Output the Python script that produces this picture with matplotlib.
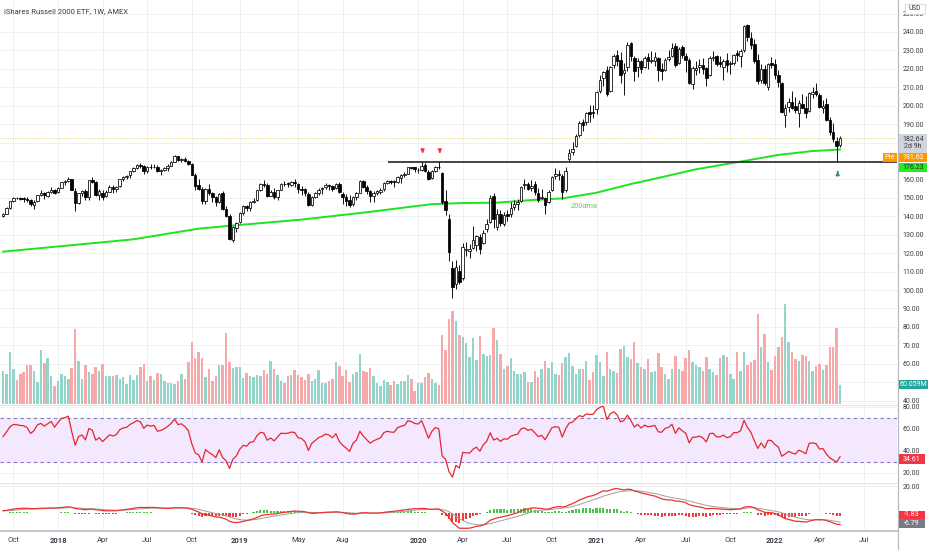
import numpy as np
import matplotlib
matplotlib.use('Agg')
import matplotlib.pyplot as plt
from matplotlib.patches import Rectangle
from matplotlib.lines import Line2D

plt.rcParams['font.family'] = ['Roboto', 'DejaVu Sans']

# weekly bars, numbered from the bar of 1 Jan 2018 (first bar = 11 Sep 2017)
weeks = list(range(-16, 229))

opens = [
    140.0, 141.5, 144.5, 148.3, 150.0, 149.9, 149.8, 149.6, 148.8, 146.2, 148.2, 151.5, 152.6, 151.2, 153.0, 154.3,
    # 2018
    153.0, 155.5, 158.5, 159.0, 160.1, 153.9, 147.2, 152.5, 153.6, 150.3, 159.5, 158.5, 151.8,
    152.5, 150.8, 153.3, 155.8, 155.0, 156.4, 160.0, 161.5, 162.2, 164.8, 166.0, 168.0, 167.5,
    164.6, 167.0, 166.6, 167.0, 164.4, 165.0, 166.0, 167.5, 169.7, 172.5, 170.5, 171.0, 170.0,
    168.6, 162.5, 156.8, 155.0, 148.5, 155.0, 152.5, 150.5, 147.8, 152.5, 144.0, 140.0, 127.2, 133.5,
    # 2019
    136.8, 142.0, 145.4, 144.6, 148.0, 148.8, 154.0, 157.6, 157.2, 151.2, 153.2, 150.6, 154.2,
    157.7, 157.8, 157.2, 158.6, 157.5, 154.6, 154.6, 152.0, 146.1, 150.5, 152.5, 154.6, 155.8,
    157.0, 156.6, 155.2, 157.5, 152.2, 150.4, 148.6, 146.5, 150.2, 152.6, 159.0, 156.0, 153.6,
    151.0, 152.6, 153.4, 154.6, 158.0, 159.0, 159.2, 158.6, 161.0, 162.4, 163.2, 166.6, 166.8,
    # 2020
    165.0, 165.3, 167.6, 164.3, 160.8, 164.8, 167.0, 163.5, 148.5, 138.5, 112.0, 103.0, 110.5, 106.5,
    121.5, 121.0, 123.0, 124.5, 129.0, 125.5, 133.0, 137.0, 151.0, 134.0, 141.0, 136.0, 141.5,
    141.0, 145.0, 146.5, 148.5, 157.0, 157.5, 155.5, 157.5, 152.5, 150.0, 150.0, 147.5, 154.0,
    162.0, 163.0, 162.0, 154.0, 171.0, 175.0, 178.0, 184.0, 191.0, 191.0, 196.5, 196.5,
    # 2021
    198.0, 208.0, 215.0, 219.5, 208.0, 222.0, 227.5, 225.0, 218.0, 221.0, 234.0, 226.0, 221.0,
    224.0, 221.0, 226.5, 224.5, 224.0, 226.0, 220.0, 219.5, 225.5, 227.0, 232.5, 223.0, 232.0,
    227.0, 225.0, 212.0, 219.5, 221.0, 222.0, 220.5, 216.5, 226.0, 227.0, 223.5, 221.0, 225.0,
    222.5, 223.0, 228.5, 227.0, 230.0, 244.0, 237.0, 233.5, 225.0, 214.0, 220.0, 210.0, 223.0,
    # 2022
    222.5, 216.5, 212.5, 195.0, 199.5, 202.0, 200.0, 196.0, 201.0, 198.5, 197.0, 206.5, 208.0,
    206.0, 199.0, 201.0, 192.0, 186.0, 181.0, 178.5,
]
highs = [
    142.0, 144.8, 148.5, 150.5, 150.6, 150.4, 150.5, 150.2, 149.3, 148.7, 151.8, 154.0, 153.0, 153.8, 155.8, 155.0,
    155.9, 158.8, 159.8, 161.2, 160.5, 155.2, 152.8, 154.5, 155.0, 159.8, 161.4, 159.4, 154.6,
    154.0, 154.0, 157.0, 156.8, 156.6, 160.2, 162.0, 162.6, 164.8, 167.0, 168.5, 169.0, 168.0,
    167.2, 168.3, 168.6, 168.0, 165.8, 167.0, 168.2, 170.0, 173.3, 172.8, 171.7, 172.0, 170.6,
    169.0, 163.5, 160.0, 156.0, 155.5, 157.5, 153.2, 151.0, 152.5, 153.5, 145.5, 141.0, 134.5, 137.0,
    142.3, 146.0, 146.0, 148.5, 150.0, 154.3, 158.0, 159.5, 157.8, 154.0, 155.5, 154.4, 158.0,
    159.0, 158.6, 159.0, 160.0, 158.3, 156.5, 155.4, 153.0, 151.0, 153.0, 155.5, 156.0, 158.0,
    157.4, 157.0, 157.9, 158.8, 153.2, 152.0, 151.8, 151.0, 153.0, 159.5, 159.5, 156.8, 154.0,
    153.8, 154.5, 155.2, 158.5, 159.8, 159.5, 159.6, 161.8, 163.0, 164.0, 166.8, 167.0, 167.0,
    166.0, 169.6, 168.8, 165.3, 165.3, 167.5, 169.3, 163.8, 154.5, 141.0, 116.0, 116.5, 113.5, 125.5,
    126.0, 125.0, 134.5, 130.0, 130.5, 132.5, 138.5, 151.5, 152.5, 144.0, 143.5, 142.5, 143.5,
    148.0, 149.0, 149.5, 156.5, 160.5, 158.5, 159.5, 159.0, 155.5, 155.0, 150.5, 154.0, 162.0,
    166.0, 165.0, 163.0, 167.0, 176.5, 180.5, 184.5, 191.5, 193.0, 196.5, 200.5, 200.5,
    208.0, 216.5, 219.0, 221.5, 221.5, 228.0, 230.5, 229.0, 223.0, 234.5, 234.5, 227.0, 226.0,
    225.0, 227.0, 228.5, 229.5, 229.0, 226.5, 223.0, 226.0, 230.0, 234.0, 234.0, 232.0, 233.0,
    228.5, 226.0, 221.5, 224.0, 225.5, 226.0, 221.0, 227.0, 229.5, 227.5, 227.0, 225.5, 228.5,
    224.5, 228.0, 230.0, 231.0, 244.0, 244.5, 240.0, 236.0, 228.0, 222.5, 222.0, 223.0, 226.5,
    225.5, 219.5, 213.0, 201.0, 204.0, 208.0, 204.5, 203.0, 206.5, 205.0, 207.5, 210.0, 212.5,
    207.0, 203.0, 204.0, 194.0, 190.5, 183.0, 183.3,
]
lows = [
    139.5, 141.2, 144.0, 147.8, 149.2, 148.8, 147.5, 147.9, 145.8, 143.9, 148.0, 150.8, 149.5, 150.4, 152.7, 152.3,
    152.9, 155.2, 157.0, 158.4, 154.0, 143.0, 146.5, 151.2, 148.8, 149.0, 157.8, 151.2, 149.0,
    148.6, 150.2, 153.0, 152.8, 153.4, 156.0, 159.2, 160.3, 160.8, 164.0, 165.6, 166.0, 163.0,
    163.6, 165.8, 166.0, 164.0, 162.6, 164.6, 164.5, 167.3, 169.5, 170.0, 169.5, 169.7, 167.8,
    162.2, 154.0, 154.5, 146.5, 146.8, 151.5, 148.0, 145.5, 147.2, 143.6, 139.5, 127.3, 125.8, 131.5,
    136.5, 140.8, 142.8, 143.0, 147.3, 148.4, 153.5, 155.8, 150.5, 150.8, 149.5, 148.8, 154.0,
    156.5, 155.7, 156.4, 156.0, 152.5, 151.8, 151.0, 145.8, 145.7, 149.8, 151.8, 152.2, 155.0,
    154.5, 153.8, 154.6, 152.5, 146.5, 145.5, 144.8, 145.6, 148.8, 152.5, 155.5, 152.3, 147.5,
    148.0, 151.8, 152.0, 153.6, 157.7, 157.4, 155.8, 158.0, 157.8, 161.2, 163.0, 165.6, 163.8,
    163.5, 164.6, 164.0, 159.8, 160.4, 164.3, 165.6, 146.5, 140.8, 115.5, 95.7, 100.5, 103.0, 105.5,
    118.5, 117.5, 122.5, 121.0, 119.5, 125.0, 131.5, 136.5, 133.5, 132.5, 135.0, 135.0, 137.5,
    139.5, 143.5, 143.5, 148.0, 155.0, 154.0, 153.5, 151.5, 148.0, 149.5, 141.5, 147.0, 153.5,
    160.0, 159.5, 149.5, 153.0, 169.6, 173.5, 177.5, 183.0, 186.5, 189.5, 191.0, 193.5,
    195.5, 207.0, 210.5, 205.0, 207.5, 220.5, 221.5, 212.5, 206.0, 219.0, 224.5, 213.5, 215.5,
    217.5, 220.5, 220.0, 223.0, 221.5, 213.5, 214.0, 219.0, 224.0, 226.5, 221.0, 222.5, 226.0,
    218.5, 212.0, 209.0, 216.5, 217.5, 217.0, 210.5, 216.0, 224.0, 221.5, 221.0, 214.0, 218.5,
    217.0, 222.0, 224.5, 221.0, 229.0, 235.0, 231.0, 223.0, 212.0, 212.5, 211.0, 208.5, 220.5,
    214.5, 210.0, 196.0, 188.5, 196.5, 198.0, 196.0, 188.5, 198.5, 193.5, 196.5, 204.0, 205.5,
    198.5, 196.0, 191.5, 184.0, 180.5, 169.5, 177.5,
]
closes = [
    141.5, 144.5, 148.2, 150.0, 149.9, 149.6, 149.5, 148.8, 146.5, 148.0, 151.5, 152.5, 151.5, 153.0, 154.5, 152.5,
    155.5, 158.5, 159.0, 160.3, 154.5, 147.0, 152.5, 153.5, 150.5, 159.5, 158.5, 151.5, 153.5,
    150.5, 153.0, 155.8, 155.0, 156.0, 160.0, 161.5, 162.0, 164.5, 166.0, 168.0, 167.5, 164.5,
    167.0, 166.5, 167.0, 164.5, 165.0, 166.0, 167.5, 169.5, 172.5, 170.5, 171.0, 170.0, 168.5,
    162.5, 156.5, 155.0, 148.5, 155.0, 152.5, 150.5, 147.5, 152.0, 144.0, 140.0, 127.5, 134.0, 136.5,
    142.0, 145.5, 144.5, 148.0, 148.5, 154.0, 157.5, 157.0, 151.0, 153.0, 150.5, 154.0, 157.5,
    157.3, 157.5, 158.5, 158.2, 155.0, 154.5, 152.5, 146.0, 150.5, 152.5, 154.5, 155.5, 157.0,
    156.5, 155.0, 157.5, 153.0, 150.5, 148.5, 146.0, 150.5, 152.5, 159.0, 156.0, 153.5, 151.0,
    152.5, 153.5, 154.5, 158.0, 159.0, 158.6, 158.5, 161.5, 162.5, 163.0, 166.5, 166.2, 165.5,
    165.3, 167.5, 164.5, 160.5, 164.5, 167.0, 166.5, 147.5, 143.5, 120.5, 101.5, 112.5, 104.5, 123.5,
    122.5, 122.0, 127.0, 129.5, 122.5, 131.0, 136.0, 150.0, 138.5, 141.5, 136.5, 140.5, 140.0,
    144.5, 146.5, 147.5, 156.0, 157.5, 155.0, 156.5, 153.0, 149.0, 150.5, 146.0, 153.0, 161.5,
    163.0, 162.5, 153.0, 164.5, 174.5, 176.5, 183.5, 190.5, 189.5, 196.0, 195.5, 196.0,
    207.5, 214.0, 218.5, 206.5, 221.0, 227.0, 224.0, 216.5, 219.5, 233.0, 227.0, 219.0, 224.5,
    220.0, 226.0, 224.0, 225.0, 226.5, 219.5, 219.0, 225.0, 226.5, 231.5, 222.0, 231.0, 227.5,
    225.0, 212.5, 220.5, 220.5, 222.0, 220.0, 215.0, 226.0, 226.5, 222.5, 222.5, 224.5, 222.0,
    223.0, 227.5, 227.5, 229.5, 243.5, 237.5, 233.0, 224.0, 213.5, 220.0, 212.5, 222.5, 222.0,
    216.5, 213.0, 196.5, 199.0, 202.0, 199.0, 197.5, 201.5, 199.0, 196.0, 207.0, 207.5, 206.5,
    199.5, 200.0, 192.5, 186.0, 182.0, 178.0, 182.64,
]
# weekly volume, millions of shares
volumes = [
    107, 98, 166, 114, 78, 96, 102, 127, 127, 105, 72, 175, 131, 149, 91, 58,
    73, 98, 91, 82, 117, 241, 139, 82, 127, 102, 96, 120, 107,
    129, 89, 89, 89, 93, 80, 86, 65, 92, 78, 92, 118, 129,
    74, 91, 77, 101, 95, 73, 68, 66, 65, 73, 96, 82, 136,
    198, 148, 166, 147, 86, 114, 73, 89, 125, 127, 230, 136, 116, 120,
    118, 85, 100, 91, 87, 93, 91, 111, 96, 138, 113, 93, 75,
    66, 89, 93, 108, 93, 86, 78, 98, 73, 82, 108, 66, 68,
    73, 82, 134, 121, 91, 108, 72, 98, 102, 161, 107, 102, 117,
    89, 67, 57, 76, 70, 61, 73, 63, 73, 75, 92, 81, 42,
    67, 67, 86, 100, 80, 67, 62, 223, 173, 273, 300, 266, 223, 216,
    195, 150, 211, 141, 219, 161, 155, 157, 245, 205, 161, 112, 121,
    147, 105, 96, 96, 102, 72, 72, 107, 86, 114, 139, 117, 136,
    96, 93, 132, 150, 164, 121, 96, 112, 112, 139, 77, 102,
    157, 136, 89, 168, 114, 107, 100, 177, 187, 150, 144, 198, 132,
    120, 112, 144, 102, 107, 164, 120, 98, 82, 112, 155, 114, 107,
    147, 173, 134, 125, 120, 105, 150, 114, 102, 93, 147, 157, 150,
    96, 82, 168, 107, 168, 125, 134, 142, 291, 182, 224, 136, 108,
    155, 182, 217, 321, 200, 166, 144, 139, 158, 155, 139, 105, 121,
    128, 110, 125, 182, 182, 245, 60.059,
]
# 200-period moving average
ma_weeks = [-16, 22, 41, 51, 71, 90, 109, 118, 128, 138, 147, 157, 167, 175, 186, 200, 210, 220, 228]
ma_values = [120.8, 127.5, 133.3, 135.0, 138.2, 142.2, 146.6, 147.2, 147.4, 148.8, 149.7, 152.8,
             157.5, 160.8, 165.5, 170.0, 173.3, 175.4, 176.23]

tick_weeks = [-13, 0, 13, 26, 39, 53, 70, 83, 105, 118, 131, 144, 157, 170, 183, 196, 209, 222, 235]
tick_names = ['Oct', '2018', 'Apr', 'Jul', 'Oct', '2019', 'May', 'Aug', '2020', 'Apr', 'Jul', 'Oct',
              '2021', 'Apr', 'Jul', 'Oct', '2022', 'Apr', 'Jul']

resistance = 169.5
last_close = 182.64
pre_price = 181.62
ma_last = 176.23
rsi_last = 34.61
hist_last = -1.83
signal_last = -6.79

o = np.array(opens); h = np.array(highs); l = np.array(lows); c = np.array(closes)
x = np.array(weeks)
up = c >= o

# RSI 14 (Wilder), with averages carried in from before the first bar
ag, al = 1.3, 1.15
rsi = []
prev = c[0]
for v in c:
    d = v - prev
    prev = v
    ag = (ag * 13 + max(d, 0)) / 14
    al = (al * 13 + max(-d, 0)) / 14
    rsi.append(100 - 100 / (1 + ag / al))
rsi = np.array(rsi)

# MACD 12/26/9
e12, e26, sig = 139.6, 137.9, 1.6
macd, signal = [], []
for v in c:
    e12 += (v - e12) * 2 / 13
    e26 += (v - e26) * 2 / 27
    m = e12 - e26
    sig += (m - sig) * 2 / 10
    macd.append(m)
    signal.append(sig)
macd = np.array(macd); signal = np.array(signal)
hist = macd - signal

W, H = 932, 550
fig = plt.figure(figsize=(W / 100, H / 100), dpi=100)
fig.patch.set_facecolor('white')


def rect(top, bottom, right=897):
    return [0, 1 - bottom / H, right / W, (bottom - top) / H]


def px(xp, yp):
    return xp / W, 1 - yp / H


ax = fig.add_axes(rect(0, 404))
ax_rsi = fig.add_axes(rect(406, 482))
ax_macd = fig.add_axes(rect(484, 531))

# hidden scale for the volume overlay
axv = ax.twinx()
axv.set_ylim(0, 1300)
axv.axis('off')

xlim = (-16.91, 244.6)
grid_c = '#eeeff3'
for a in (ax, ax_rsi, ax_macd):
    a.set_xlim(*xlim)
    for s in a.spines.values():
        s.set_visible(False)
    a.yaxis.tick_right()
    a.tick_params(axis='y', length=0, pad=4, labelsize=5, colors='#3a3d45')
    a.set_xticks(tick_weeks)
    a.tick_params(axis='x', length=0)
    a.grid(color=grid_c, lw=0.6)
    a.set_axisbelow(True)
ax.set_xticklabels([])
ax_rsi.set_xticklabels([])

# --- price pane (labels hidden where the value tags sit on the scale)
price_ticks = np.arange(40, 251, 10)
ax.set_yticks(price_ticks)
ax.set_yticklabels(['' if v in (50, 170, 180) else '%.2f' % v for v in price_ticks])

vol_col = np.where(up, '#93d4cb', '#f6a9a8')
ax.bar(x, volumes, width=0.72, bottom=0, color=vol_col, transform=axv.transData, zorder=1)

ax.plot(ma_weeks, ma_values, color='#1ee41e', lw=1.4, zorder=2)
ax.axhline(last_close, color='#ecd27a', lw=0.7, ls=(0, (1, 1.5)), zorder=1.5)
ax.hlines(resistance, 96.2, xlim[1], color='#262626', lw=1.2, zorder=2.5)

ax.vlines(x, l, h, color='black', lw=0.65, zorder=3)
body_lo = np.minimum(o, c)
body_h = np.maximum(np.abs(c - o), 0.25)
ax.bar(x, body_h, bottom=body_lo, width=0.74, color=np.where(up, 'white', 'black'),
       edgecolor='black', lw=0.55, zorder=4)

for wk in (106, 111):
    ax.annotate('', xy=(wk + 0.3, 172.6), xytext=(wk + 0.3, 177.0),
                arrowprops=dict(arrowstyle='-|>', color='#f23645', lw=1.1, mutation_scale=5), zorder=5)
ax.annotate('', xy=(227.3, 166.0), xytext=(227.3, 162.6),
            arrowprops=dict(arrowstyle='-|>', color='#2e9b4e', lw=1.1, mutation_scale=5), zorder=5)
ax.text(149.5, 145.6, '200dma', color='#6cc46c', fontsize=5.5, style='italic', va='center', ha='left')

ax.set_xlim(*xlim)
ax.set_ylim(38.15, 257.36)

# --- RSI pane
ax_rsi.set_ylim(11.8, 80.9)
ax_rsi.set_yticks([20, 40, 60, 80])
ax_rsi.set_yticklabels(['20.00', '40.00', '60.00', '80.00'])
ax_rsi.axhspan(30, 70, color='#f3e8fd', zorder=0.6)
for lv in (70, 30):
    ax_rsi.axhline(lv, color='#7c7fb8', lw=0.8, ls=(0, (3, 3)), zorder=1)
ax_rsi.plot(x, rsi, color='#e5262f', lw=0.9, zorder=3)

# --- MACD pane
ax_macd.set_ylim(-13.3, 21.5)
ax_macd.set_yticks([20])
ax_macd.set_yticklabels(['20.00'])
ax_macd.bar(x, hist, width=0.6, color=np.where(hist >= 0, '#4cc24c', '#f23b3b'), zorder=2)
ax_macd.plot(x, signal, color='#a0a0a0', lw=0.7, zorder=3)
ax_macd.plot(x, macd, color='#ee3030', lw=0.9, zorder=4)
ax_macd.set_xticklabels(tick_names)
ax_macd.tick_params(axis='x', pad=4.5, labelsize=5.5, colors='#3a3d45')
for lab, name in zip(ax_macd.get_xticklabels(), tick_names):
    if name.isdigit():
        lab.set_fontweight('bold')

# --- pane borders
for yy, col, lw in ((405, '#e3e5ea', 0.8), (483, '#e3e5ea', 0.8), (531, '#b8bac2', 1.2)):
    fig.add_artist(Line2D([0, 897.5 / W], [1 - yy / H] * 2, color=col, lw=lw))
fig.add_artist(Line2D([897.5 / W] * 2, [0, 1], color='#b8bac2', lw=0.9))


def tag(x0, y0, x1, y1, text, fc, tc='white', ec='none', fs=5):
    fig.add_artist(Rectangle(px(x0, y1), (x1 - x0) / W, (y1 - y0) / H, transform=fig.transFigure,
                             facecolor=fc, edgecolor=ec, lw=0.5, zorder=10))
    cx, cy = px((x0 + x1) / 2, (y0 + y1) / 2)
    fig.text(cx, cy, text, color=tc, fontsize=fs, ha='center', va='center', zorder=11,
             linespacing=1.0)


fig.text(*px(4, 11), 'iShares Russell 2000 ETF, 1W, AMEX', fontsize=5.5, color='#3a3d45', va='center')
tag(905, 4, 925, 14, 'USD', 'white', tc='#3a3d45', ec='#c8cad0', fs=4.8)
tag(899, 134, 927, 152.7, '%.2f\n2d 9h' % last_close, '#d1d4dc', tc='#3a3d45')
tag(883, 153, 897, 162, 'Pre', '#ff9800')
tag(899, 153, 927, 162, '%.2f' % pre_price, '#ff9800')
tag(899, 162.7, 927, 172.3, '%.2f' % ma_last, '#22ee22', tc='#1e2a1e')
tag(899, 379.5, 928, 388.5, '%.3fM' % volumes[-1], '#26a69a')
tag(899, 454.3, 925, 464, '%.2f' % rsi_last, '#f23645')
tag(899, 510.7, 925, 519.3, '%.2f' % hist_last, '#f23645')
tag(899, 519.3, 925, 528, '%.2f' % signal_last, '#787b86')

fig.savefig('out.png', dpi=100, facecolor='white')
